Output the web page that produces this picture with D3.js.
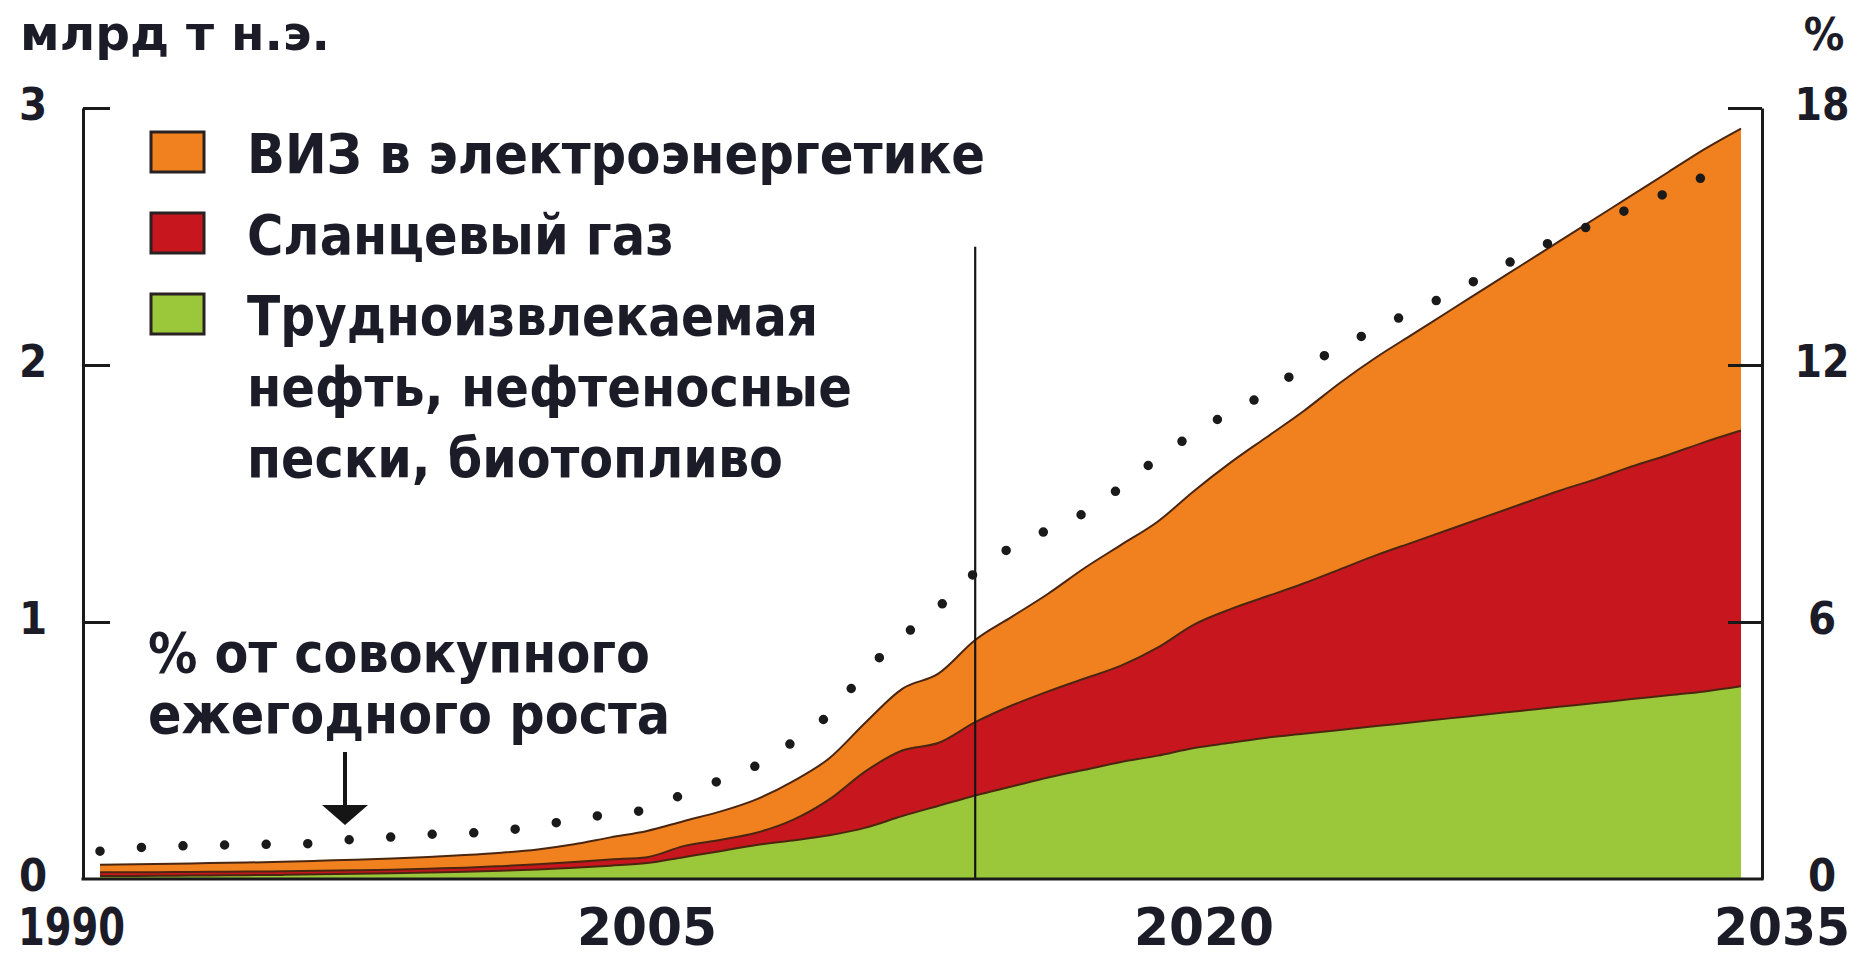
<!DOCTYPE html>
<html><head><meta charset="utf-8">
<script src="https://cdn.jsdelivr.net/npm/d3@7"></script>
<style>html,body{margin:0;padding:0;background:#fff;} svg{display:block}</style>
</head><body><svg id="c" width="1860" height="958"></svg>
<script>
// ---------- DATA ----------
const years = d3.range(1990, 2036);
// млрд т н.э. (stacked components)
const tightOil = [0.012,0.012,0.013,0.014,0.015,0.016,0.018,0.020,0.022,0.025,
                  0.028,0.032,0.037,0.044,0.052,0.062,0.085,0.108,0.132,0.150,
                  0.170,0.200,0.245,0.285,0.325,0.360,0.395,0.425,0.455,0.480,
                  0.510,0.530,0.550,0.565,0.580,0.595,0.610,0.625,0.640,0.655,
                  0.670,0.685,0.700,0.715,0.730,0.750];
const shaleGas = [0.014,0.014,0.014,0.014,0.014,0.014,0.014,0.014,0.014,0.015,
                  0.016,0.018,0.020,0.022,0.024,0.023,0.043,0.044,0.048,0.080,
                  0.140,0.220,0.255,0.245,0.285,0.315,0.335,0.355,0.375,0.420,
                  0.480,0.520,0.550,0.585,0.625,0.665,0.700,0.735,0.770,0.805,
                  0.840,0.870,0.905,0.935,0.970,0.995];
const renewables = [0.029,0.031,0.032,0.034,0.035,0.037,0.039,0.041,0.044,0.046,
                    0.049,0.052,0.058,0.069,0.086,0.102,0.097,0.110,0.130,0.150,
                    0.160,0.190,0.240,0.270,0.320,0.345,0.380,0.430,0.470,0.490,
                    0.520,0.570,0.620,0.670,0.725,0.770,0.810,0.850,0.890,0.930,
                    0.970,1.015,1.055,1.100,1.140,1.175];
// % от совокупного ежегодного роста (right axis)
const sharePct = [0.65,0.73,0.77,0.78,0.81,0.81,0.84,0.93,0.98,1.04,
                  1.07,1.12,1.25,1.38,1.52,1.62,1.98,2.30,2.65,3.20,
                  3.85,4.85,5.65,6.35,7.15,7.75,8.15,8.55,9.15,9.82,
                  10.40,10.90,11.35,11.95,12.40,12.85,13.25,13.65,14.10,14.55,
                  14.95,15.30,15.67,16.03,16.40,null];
const leftTicks = [0, 1, 2, 3];
const rightTicks = [0, 6, 12, 18];
const yearTicks = [1990, 2005, 2020, 2035];
const forecastYear = 2014;
const seriesKeys = ["tight", "shale", "res"];
const legendLabels = [
  ["ВИЗ в электроэнергетике"],
  ["Сланцевый газ"],
  ["Трудноизвлекаемая", "нефть, нефтеносные", "пески, биотопливо"]
];
const legendKeys = ["res", "shale", "tight"];
const noteLines = ["% от совокупного", "ежегодного роста"];
const leftUnit = "млрд т н.э.";
const rightUnit = "%";

// ---------- STYLE / LAYOUT ----------
const colors = {res: "#f1801f", shale: "#c8161e", tight: "#9bc83a"};
const ink = "#1c1c28";
const FONT = "'DejaVu Sans Condensed','Liberation Sans Narrow','DejaVu Sans',sans-serif";
const plot = {left: 83, right: 1762, top: 108, bottom: 879, x0: 100, x1: 1741};

const svg = d3.select("#c");
const x = d3.scaleLinear().domain([1990, 2035]).range([plot.x0, plot.x1]);
const yL = d3.scaleLinear().domain([0, 3]).range([plot.bottom, plot.top]);
const yR = d3.scaleLinear().domain([0, 18]).range([plot.bottom, plot.top]);

const table = years.map((yr, i) => ({year: yr, tight: tightOil[i], shale: shaleGas[i], res: renewables[i], pct: sharePct[i]}));
const stacked = d3.stack().keys(seriesKeys)(table);

const area = d3.area().x(d => x(d.data.year)).y0(d => yL(d[0])).y1(d => yL(d[1])).curve(d3.curveMonotoneX);
const topLine = d3.line().x(d => x(d.data.year)).y(d => yL(d[1])).curve(d3.curveMonotoneX);

svg.append("g").selectAll("path").data(stacked).join("path")
  .attr("d", area).attr("fill", d => colors[d.key]);
svg.append("g").selectAll("path").data(stacked).join("path")
  .attr("d", topLine).attr("fill", "none").attr("stroke", "#4a2610").attr("stroke-width", 2);

// forecast divider
svg.append("line").attr("x1", x(forecastYear)).attr("x2", x(forecastYear))
  .attr("y1", yL(2.46)).attr("y2", plot.bottom)
  .attr("stroke", "#151515").attr("stroke-width", 2.2);

// dotted share line
const pctLine = d3.line().defined(d => d.pct != null)
  .x(d => x(d.year)).y(d => yR(d.pct)).curve(d3.curveMonotoneX);
svg.append("path").datum(table).attr("d", pctLine)
  .attr("fill", "none").attr("stroke", "#1a1a1a").attr("stroke-width", 9.5)
  .attr("stroke-linecap", "round").attr("stroke-dasharray", "0 41.6");

// axes
const axL = svg.append("g").attr("transform", `translate(${plot.left},0)`)
  .call(d3.axisRight(yL).tickValues(leftTicks.slice(1)).tickSize(27).tickSizeOuter(0).tickFormat(""));
const axR = svg.append("g").attr("transform", `translate(${plot.right},0)`)
  .call(d3.axisLeft(yR).tickValues(rightTicks.slice(1)).tickSize(34).tickSizeOuter(0).tickFormat(""));
[axL, axR].forEach(a => {
  a.selectAll("path,line").attr("stroke", "#1a1a1a").attr("stroke-width", 3);
});
svg.append("line").attr("x1", plot.left - 1.5).attr("x2", plot.right + 1.5)
  .attr("y1", plot.bottom).attr("y2", plot.bottom)
  .attr("stroke", "#1a1a1a").attr("stroke-width", 3);

// text helpers
function txt(s, xx, yy, size, anchor, len) {
  const t = svg.append("text").attr("x", xx).attr("y", yy).text(s)
    .attr("font-family", FONT).attr("font-weight", "bold").attr("font-size", size)
    .attr("fill", ink).attr("text-anchor", anchor || "start");
  if (len) t.attr("textLength", len).attr("lengthAdjust", "spacingAndGlyphs");
  return t;
}

txt(leftUnit, 20, 50, 48, "start", 310);
txt(rightUnit, 1824, 50, 45, "middle");

leftTicks.forEach(v => txt(String(v), 33, yL(v) + 12, 45, "middle"));
rightTicks.forEach(v => txt(String(v), 1822, yR(v) + 12, 45, "middle", String(v).length > 1 ? 55 : null));

const yearBase = 945, yearSize = 52;
yearTicks.forEach((yr, i) => {
  const last = i === yearTicks.length - 1;
  if (i === 0) txt(String(yr), 18, yearBase, yearSize, "start", 107);
  else if (last) txt(String(yr), 1850, yearBase, yearSize, "end", 136);
  else txt(String(yr), x(yr) + (i === 2 ? 10 : 0), yearBase, yearSize, "middle", 140);
});

// legend
const legTops = [132, 213, 294];
const legWidths = [[738], [427], [571, 605, 536]];
legendKeys.forEach((k, i) => {
  svg.append("rect").attr("x", 151).attr("y", legTops[i]).attr("width", 53).attr("height", 40)
    .attr("fill", colors[k]).attr("stroke", "#2a2222").attr("stroke-width", 3);
  legendLabels[i].forEach((line, j) => {
    txt(line, 247, legTops[i] + 41 + j * 71, 55, "start", legWidths[i][j]);
  });
});

// annotation
const noteW = [502, 522];
noteLines.forEach((line, j) => txt(line, 148, 672 + j * 61, 55, "start", noteW[j]));
svg.append("line").attr("x1", 345).attr("x2", 345).attr("y1", 752).attr("y2", 810)
  .attr("stroke", "#151515").attr("stroke-width", 4);
svg.append("path").attr("d", "M322,805 L368,805 L345,825 Z").attr("fill", "#151515");
</script></body></html>
